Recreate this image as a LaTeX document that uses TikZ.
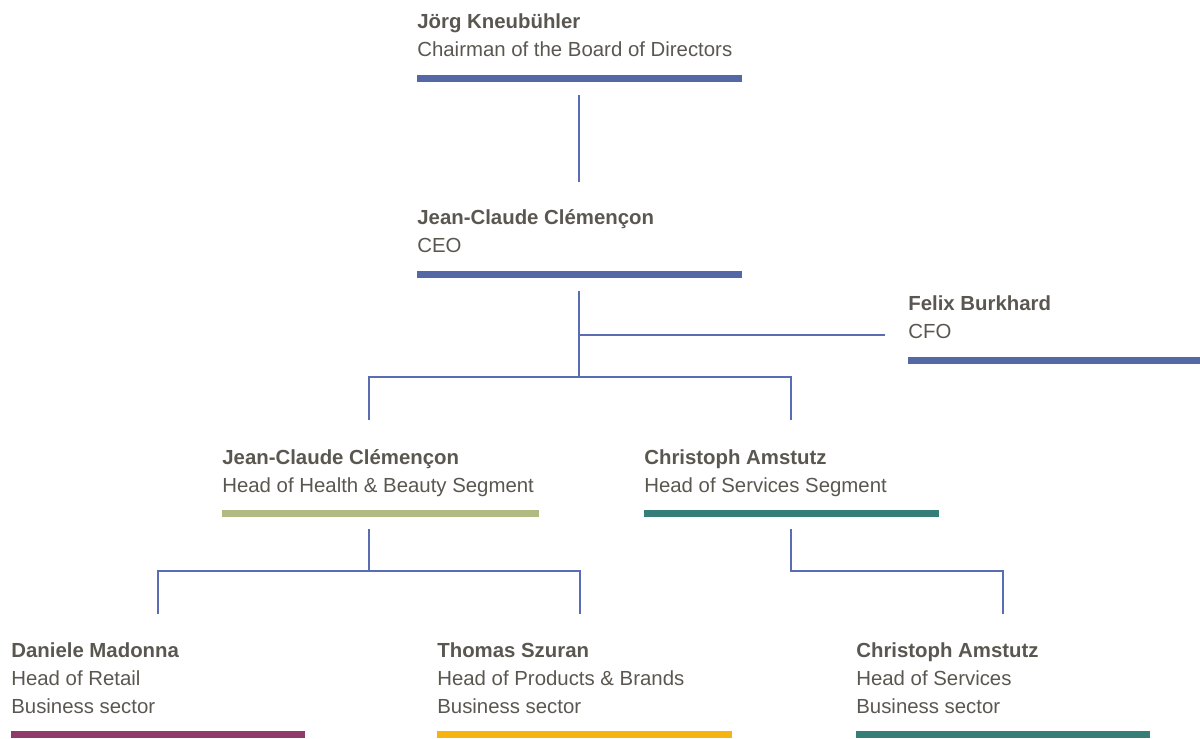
\documentclass[tikz,border=0pt]{standalone}
\usepackage{fontspec}
\setmainfont{Liberation Sans}
\definecolor{orgblue}{HTML}{5468A6}
\definecolor{linkblue}{HTML}{5A6DB3}
\definecolor{segolive}{HTML}{B2BA84}
\definecolor{segteal}{HTML}{357F78}
\definecolor{segplum}{HTML}{8F3A6B}
\definecolor{seggold}{HTML}{F5B40F}
\definecolor{textgrey}{HTML}{5A5750}

\begin{document}
\begin{tikzpicture}[x=0.02cm, y=-0.02cm,
	person/.style={anchor=base west, align=left, inner sep=0pt, text=textgrey,
		font=\fontsize{11.6}{15.9}\selectfont},
	bar/.style={fill=#1, minimum height=0.14cm, inner sep=0pt, anchor=north west},
	link/.style={draw=linkblue, line width=0.85pt}]
	\useasboundingbox (0,0) rectangle (1200,738);
	% board and ceo (node base = last line)
	\node[person] (chair) at (417,56) {\textbf{Jörg Kneubühler}\\Chairman of the Board of Directors};
	\node[bar=orgblue, minimum width=6.5cm] (chairbar) at (417,75) {};
	\node[person] (ceo) at (417,252) {\textbf{Jean-Claude Clémençon}\\CEO};
	\node[bar=orgblue, minimum width=6.5cm] (ceobar) at (417,271) {};
	\node[person] (cfo) at (908,338) {\textbf{Felix Burkhard}\\CFO};
	\node[bar=orgblue, minimum width=5.84cm] (cfobar) at (908,357) {};
	% segments
	\node[person] (health) at (222,492) {\textbf{Jean-Claude Clémençon}\\Head of Health \& Beauty Segment};
	\node[bar=segolive, minimum width=6.34cm] (healthbar) at (222,510) {};
	\node[person] (services) at (644,492) {\textbf{Christoph Amstutz}\\Head of Services Segment};
	\node[bar=segteal, minimum width=5.9cm] (servicesbar) at (644,510) {};
	% business sectors
	\node[person] (retail) at (11,713) {\textbf{Daniele Madonna}\\Head of Retail\\Business sector};
	\node[bar=segplum, minimum width=5.88cm] (retailbar) at (11,731) {};
	\node[person] (products) at (437,713) {\textbf{Thomas Szuran}\\Head of Products \& Brands\\Business sector};
	\node[bar=seggold, minimum width=5.9cm] (productsbar) at (437,731) {};
	\node[person] (servsector) at (856,713) {\textbf{Christoph Amstutz}\\Head of Services\\Business sector};
	\node[bar=segteal, minimum width=5.88cm] (servsectorbar) at (856,731) {};
	% connector ends
	\coordinate (chair-out) at (579,95);
	\coordinate (ceo-in) at (579,182);
	\coordinate (ceo-out) at (579,291);
	\coordinate (ceo-hub) at (579,377);
	\coordinate (cfo-in) at (885,335);
	\coordinate (health-in) at (369,420);
	\coordinate (services-in) at (791,420);
	\coordinate (health-out) at (369,529);
	\coordinate (health-hub) at (369,571);
	\coordinate (retail-in) at (158,614);
	\coordinate (products-in) at (580,614);
	\coordinate (services-out) at (791,529);
	\coordinate (servsector-in) at (1003,614);
	% connectors
	\draw[link] (chair-out) -- (ceo-in);
	\draw[link] (ceo-out) -- (ceo-hub);
	\draw[link] (cfo-in -| ceo-out) -- (cfo-in);
	\draw[link] (health-in) |- (ceo-hub) -| (services-in);
	\draw[link] (health-out) -- (health-hub);
	\draw[link] (retail-in) |- (health-hub) -| (products-in);
	\draw[link] (services-out) |- (servsector-in |- health-hub) -- (servsector-in);
\end{tikzpicture}
\end{document}
